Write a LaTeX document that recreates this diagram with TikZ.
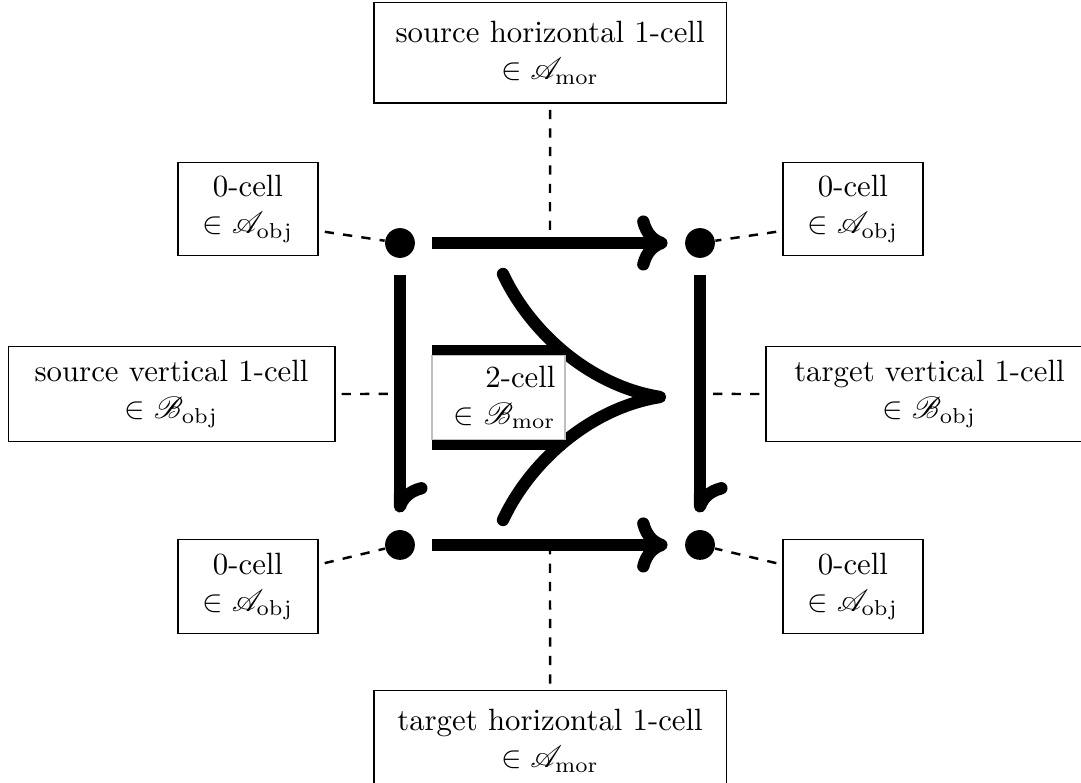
\documentclass[tikz,border=0pt]{standalone}
\usepackage{amsmath,amssymb}
\usepackage{mathrsfs}
\usetikzlibrary{arrows.meta,calc}

\begin{document}
\begin{tikzpicture}[
    objdot/.style={circle, fill=black, inner sep=0pt, minimum size=0.34cm},
    cellbox/.style={draw, align=center, inner xsep=6pt, inner ysep=4pt, minimum width=1.6cm, minimum height=1.07cm},
    widebox/.style={cellbox, minimum width=4.02cm, minimum height=1.15cm},
    sidebox/.style={cellbox, minimum width=3.73cm, minimum height=1.09cm},
    leader/.style={thick, dashed, shorten <=2pt},
    onecell/.style={line width=4pt, shorten <=5.5pt, shorten >=5.5pt, -{Computer Modern Rightarrow[scale length=0.95, scale width=0.82]}},
    vonecell/.style={onecell, -{Computer Modern Rightarrow[harpoon, scale length=0.95, scale width=0.82]}},
    twocell/.style={line width=4pt, line cap=round, line join=round}
]
\useasboundingbox (0,0) rectangle (12.34,-8.93);

% 0-cells of the square
\node[objdot] (a) at (4.566,-2.774) {};
\node[objdot] (b) at (7.991,-2.774) {};
\node[objdot] (c) at (4.566,-6.221) {};
\node[objdot] (d) at (7.991,-6.221) {};
\coordinate (ab) at ($(a)!.5!(b)$);
\coordinate (cd) at ($(c)!.5!(d)$);
\coordinate (ac) at ($(a)!.5!(c)$);
\coordinate (bd) at ($(b)!.5!(d)$);

% labels
\node[widebox] (srch) at (6.279,-0.602) {source horizontal 1-cell\\ $\in \mathscr{A}_{\mathrm{mor}}$};
\node[widebox] (tgth) at (6.279,-8.456) {target horizontal 1-cell\\ $\in \mathscr{A}_{\mathrm{mor}}$};
\node[sidebox] (srcv) at (1.958,-4.498) {source vertical 1-cell\\ $\in \mathscr{B}_{\mathrm{obj}}$};
\node[sidebox] (tgtv) at (10.61,-4.498) {target vertical 1-cell\\ $\in \mathscr{B}_{\mathrm{obj}}$};
\node[cellbox] (tl0) at (2.831,-2.386) {0-cell\\ $\in \mathscr{A}_{\mathrm{obj}}$};
\node[cellbox] (tr0) at (9.737,-2.386) {0-cell\\ $\in \mathscr{A}_{\mathrm{obj}}$};
\node[cellbox] (bl0) at (2.831,-6.695) {0-cell\\ $\in \mathscr{A}_{\mathrm{obj}}$};
\node[cellbox] (br0) at (9.737,-6.695) {0-cell\\ $\in \mathscr{A}_{\mathrm{obj}}$};

\draw[leader] (srch) -- (ab);
\draw[leader] (tgth) -- (cd);
\draw[leader] (srcv) -- (ac);
\draw[leader] (tgtv) -- (bd);
\draw[leader] ([yshift=-0.25cm]tl0.east) -- (a);
\draw[leader] ([yshift=-0.25cm]tr0.west) -- (b);
\draw[leader] ([yshift=0.25cm]bl0.east) -- (c);
\draw[leader] ([yshift=0.25cm]br0.west) -- (d);

% 1-cells
\draw[onecell] (a) -- (b);
\draw[onecell] (c) -- (d);
\draw[vonecell] (a) -- (c);
\draw[vonecell] (b) -- (d);

% 2-cell
\coordinate (tip) at (7.534,-4.532);
\coordinate (up) at (5.742,-3.128);
\coordinate (lo) at (5.742,-5.936);
\coordinate (ul) at (4.932,-4.007);
\coordinate (ur) at (6.45,-4.007);
\coordinate (ll) at (4.932,-5.068);
\coordinate (lr) at (6.45,-5.068);
\draw[line width=4pt] (ul) -- (ur) (ll) -- (lr);
\draw[twocell] (up) .. controls (6.050,-3.790) and (6.735,-4.406) .. (tip)
    .. controls (6.735,-4.658) and (6.050,-5.274) .. (lo);
\node[draw=gray!50, fill=white, align=right, text width=1.3cm, minimum width=1.518cm,
    minimum height=0.925cm, inner xsep=3pt] (two) at (5.691,-4.538) {2-cell\\ $\in \mathscr{B}_{\mathrm{mor}}$};
\end{tikzpicture}
\end{document}
